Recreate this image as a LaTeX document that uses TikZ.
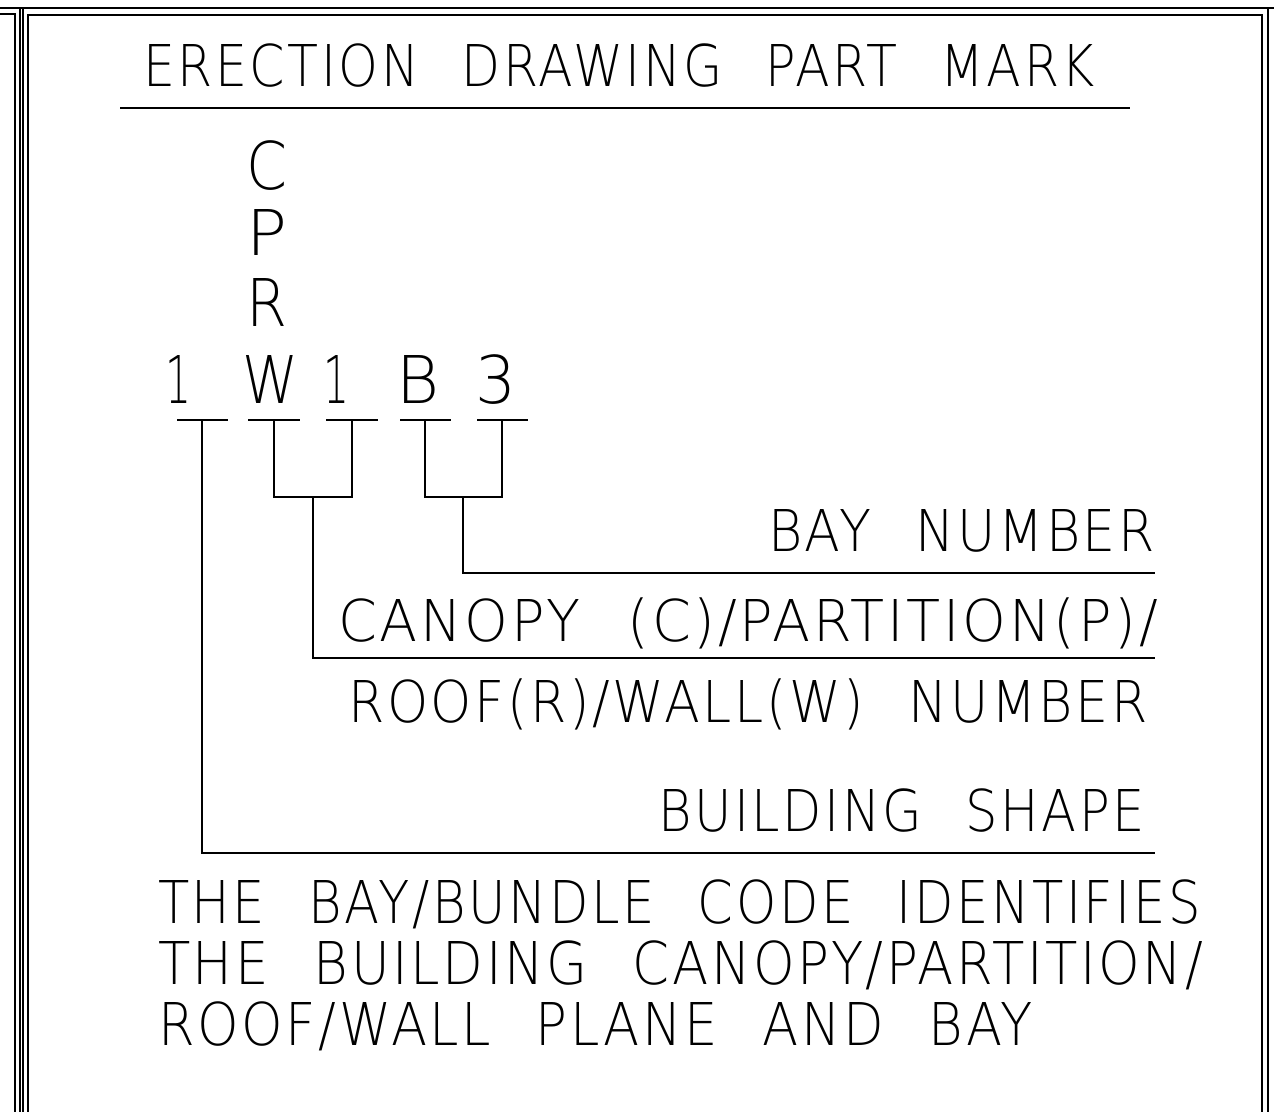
\documentclass[tikz,border=0pt]{standalone}
\usepackage{fontspec}
\usepackage{graphicx}
\IfFontExistsTF{DejaVu Sans ExtraLight}{%
  \newfontfamily\cadls{DejaVu Sans ExtraLight}[LetterSpace=5,WordSpace=2.3]%
  \newfontfamily\cadnn{DejaVu Sans ExtraLight}}{%
  \IfFontExistsTF{Fira Sans Light}{%
    \newfontfamily\cadls{Fira Sans Light}[LetterSpace=5,WordSpace=2.3]%
    \newfontfamily\cadnn{Fira Sans Light}}{%
    \newfontfamily\cadls{Liberation Sans}[LetterSpace=5,WordSpace=2.3]%
    \newfontfamily\cadnn{Liberation Sans}}}
\newsavebox\tbox
\newlength\caph
\newlength\tw
\newcommand\fittext[4]{%
  \begingroup#1\fontsize{50}{60}\selectfont
  \sbox\tbox{#4}\settoheight\caph{H}\setlength\tw{\wd\tbox}%
  \pgfmathsetmacro\sx{#2/\tw}%
  \pgfmathsetmacro\sy{#3/\caph}%
  \scalebox{\sx}[\sy]{\usebox\tbox}\endgroup}
\tikzset{
  txt/.style={inner sep=0pt, outer sep=0pt, anchor=base west},
  wire/.style={line width=2pt, line cap=butt},
  frame/.style={line width=1.8pt},
}
\begin{document}
\begin{tikzpicture}[x=1pt,y=-1pt]
\useasboundingbox (0,0) rectangle (1274,1111);
\fill[white] (0,0) rectangle (1274,1111);
% frame
\draw[line width=2.6pt] (0,8) -- (1274,8);
\draw[frame] (0,13.6) -- (14.8,13.6) -- (14.8,1112);
\draw[line width=1.7pt] (19.9,8) -- (19.9,1112);
\draw[line width=1.7pt] (22.7,8) -- (22.7,1112);
\draw[frame] (28.2,1112) -- (28.2,15.3) -- (1262,15.3) -- (1262,1112);
\draw[frame] (1268,8) -- (1268,1112);
% title
\node[txt] (title) at (143,86) {\fittext{\cadls}{952}{42}{ERECTION DRAWING PART MARK}};
\coordinate (tl) at (120,108);
\coordinate (tr) at (1130,108);
\draw[wire] (tl) -- (tr);
% stacked letters
\node[txt] (lc) at (246,189) {\fittext{\cadnn}{41}{48}{C}};
\node[txt] (lp) at (246,255) {\fittext{\cadnn}{41}{46}{P}};
\node[txt] (lr) at (246,326) {\fittext{\cadnn}{41}{48}{R}};
\node[txt] (lw) at (242,403) {\fittext{\cadnn}{56}{48}{W}};
\node[txt] (d1) at (165,403) {\fittext{\cadnn}{26}{48}{1}};
\node[txt] (d2) at (323,403) {\fittext{\cadnn}{26}{48}{1}};
\node[txt] (lb) at (396,403) {\fittext{\cadnn}{43}{48}{B}};
\node[txt] (d3) at (475,403) {\fittext{\cadnn}{41}{48}{3}};
% bars under characters
\coordinate (b1l) at (177,420); \coordinate (b1r) at (228,420);
\coordinate (b2l) at (248,420); \coordinate (b2r) at (300,420);
\coordinate (b3l) at (326,420); \coordinate (b3r) at (378,420);
\coordinate (b4l) at (400,420); \coordinate (b4r) at (451,420);
\coordinate (b5l) at (477,420); \coordinate (b5r) at (528,420);
\draw[wire] (b1l) -- (b1r);
\draw[wire] (b2l) -- (b2r);
\draw[wire] (b3l) -- (b3r);
\draw[wire] (b4l) -- (b4r);
\draw[wire] (b5l) -- (b5r);
% stems
\coordinate (s1) at (202,420);
\coordinate (s2) at (274,420);
\coordinate (s3) at (352,420);
\coordinate (s4) at (425,420);
\coordinate (s5) at (502,420);
\coordinate (k1) at (274,497); \coordinate (k2) at (352,497);
\coordinate (k3) at (425,497); \coordinate (k4) at (502,497);
\coordinate (m1) at (313,497); \coordinate (m2) at (463,497);
\coordinate (e1) at (1155,573);
\coordinate (e2) at (1155,658);
\coordinate (e3) at (1155,853);
\draw[wire] (s2) -- (k1) -- (k2) -- (s3);
\draw[wire] (s4) -- (k3) -- (k4) -- (s5);
\draw[wire] (m2) |- (e1);
\draw[wire] (m1) |- (e2);
\draw[wire] (s1) |- (e3);
% labels
\node[txt] (bay) at (768,551) {\fittext{\cadls}{387}{42}{BAY NUMBER}};
\node[txt] (can) at (338,641) {\fittext{\cadls}{820}{42}{CANOPY (C)/PARTITION(P)/}};
\node[txt] (roof) at (348,722) {\fittext{\cadls}{800}{42}{ROOF(R)/WALL(W) NUMBER}};
\node[txt] (bld) at (658,831) {\fittext{\cadls}{487}{42}{BUILDING SHAPE}};
\node[txt] (n1) at (158,923) {\fittext{\cadls}{1043}{43}{THE BAY/BUNDLE CODE IDENTIFIES}};
\node[txt] (n2) at (158,984) {\fittext{\cadls}{1045}{43}{THE BUILDING CANOPY/PARTITION/}};
\node[txt] (n3) at (158,1045) {\fittext{\cadls}{875}{43}{ROOF/WALL PLANE AND BAY}};
\end{tikzpicture}
\end{document}
